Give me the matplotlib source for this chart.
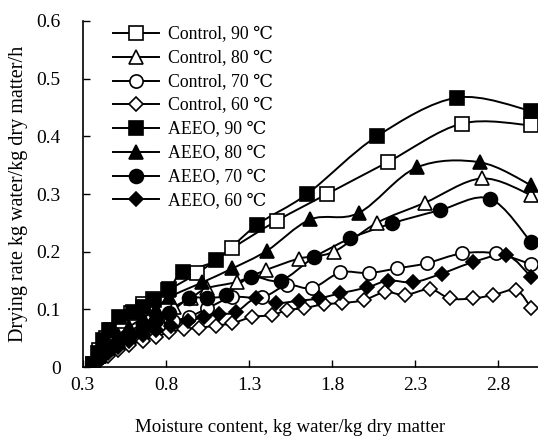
import numpy as np
import matplotlib
matplotlib.use('Agg')
import matplotlib.pyplot as plt
from matplotlib.path import Path
from matplotlib.patches import PathPatch

plt.rcParams['font.family'] = ['Liberation Serif', 'DejaVu Serif']

# Moisture content (x) and drying rate (y) per treatment
aeeo90_x = [0.36, 0.39, 0.42, 0.46, 0.52, 0.60, 0.66, 0.73, 0.82, 0.90, 1.10, 1.35, 1.65, 2.07, 2.55, 3.00]
aeeo90_y = [0.005, 0.025, 0.047, 0.065, 0.087, 0.095, 0.105, 0.116, 0.135, 0.165, 0.185, 0.247, 0.300, 0.400, 0.467, 0.444]

ctrl90_x = [0.36, 0.40, 0.44, 0.47, 0.53, 0.59, 0.66, 0.72, 0.81, 0.99, 1.20, 1.47, 1.77, 2.14, 2.58, 3.00]
ctrl90_y = [0.005, 0.030, 0.050, 0.064, 0.080, 0.093, 0.110, 0.118, 0.133, 0.163, 0.206, 0.254, 0.300, 0.356, 0.422, 0.419]

aeeo80_x = [0.36, 0.40, 0.45, 0.51, 0.58, 0.66, 0.74, 0.82, 1.02, 1.20, 1.41, 1.67, 1.96, 2.31, 2.69, 3.00]
aeeo80_y = [0.005, 0.020, 0.040, 0.055, 0.070, 0.085, 0.100, 0.121, 0.147, 0.171, 0.202, 0.256, 0.267, 0.346, 0.355, 0.315]

ctrl80_x = [0.36, 0.40, 0.45, 0.51, 0.58, 0.66, 0.75, 0.85, 0.95, 1.05, 1.23, 1.40, 1.60, 1.81, 2.07, 2.36, 2.70, 3.00]
ctrl80_y = [0.005, 0.020, 0.035, 0.050, 0.062, 0.075, 0.090, 0.105, 0.120, 0.137, 0.148, 0.168, 0.188, 0.200, 0.250, 0.285, 0.327, 0.298]

aeeo70_x = [0.36, 0.40, 0.45, 0.51, 0.58, 0.66, 0.74, 0.82, 0.94, 1.05, 1.16, 1.31, 1.49, 1.69, 1.91, 2.16, 2.45, 2.75, 3.00]
aeeo70_y = [0.005, 0.018, 0.032, 0.045, 0.058, 0.070, 0.082, 0.093, 0.119, 0.120, 0.125, 0.156, 0.150, 0.190, 0.223, 0.249, 0.272, 0.292, 0.216]

ctrl70_x = [0.36, 0.40, 0.45, 0.51, 0.58, 0.66, 0.75, 0.84, 0.94, 1.05, 1.20, 1.38, 1.53, 1.68, 1.85, 2.02, 2.19, 2.37, 2.58, 2.79, 3.00]
ctrl70_y = [0.005, 0.015, 0.028, 0.040, 0.052, 0.062, 0.072, 0.080, 0.087, 0.102, 0.121, 0.121, 0.142, 0.137, 0.164, 0.163, 0.171, 0.180, 0.197, 0.197, 0.178]

aeeo60_x = [0.36, 0.40, 0.45, 0.51, 0.58, 0.66, 0.74, 0.83, 0.93, 1.03, 1.12, 1.22, 1.34, 1.46, 1.60, 1.72, 1.85, 2.01, 2.14, 2.29, 2.46, 2.65, 2.85, 3.00]
aeeo60_y = [0.005, 0.013, 0.024, 0.035, 0.045, 0.055, 0.064, 0.072, 0.080, 0.086, 0.092, 0.095, 0.119, 0.111, 0.115, 0.119, 0.128, 0.138, 0.150, 0.147, 0.162, 0.182, 0.194, 0.156]

ctrl60_x = [0.36, 0.40, 0.45, 0.51, 0.58, 0.66, 0.74, 0.82, 0.91, 1.00, 1.10, 1.20, 1.32, 1.44, 1.53, 1.63, 1.75, 1.86, 1.99, 2.12, 2.24, 2.39, 2.51, 2.65, 2.77, 2.91, 3.00]
ctrl60_y = [0.003, 0.010, 0.020, 0.030, 0.038, 0.046, 0.053, 0.060, 0.066, 0.068, 0.072, 0.076, 0.087, 0.090, 0.099, 0.102, 0.109, 0.111, 0.116, 0.130, 0.125, 0.135, 0.119, 0.119, 0.125, 0.133, 0.102]

x_ticks = [0.3, 0.8, 1.3, 1.8, 2.3, 2.8]
y_ticks = [0, 0.1, 0.2, 0.3, 0.4, 0.5, 0.6]
y_tick_labels = ['0', '0.1', '0.2', '0.3', '0.4', '0.5', '0.6']

series = [
    ('Control, 90 \u2103', ctrl90_x, ctrl90_y, 's', 'white', 9.5),
    ('Control, 80 \u2103', ctrl80_x, ctrl80_y, '^', 'white', 9.5),
    ('Control, 70 \u2103', ctrl70_x, ctrl70_y, 'o', 'white', 9.5),
    ('Control, 60 \u2103', ctrl60_x, ctrl60_y, 'D', 'white', 7),
    ('AEEO, 90 \u2103', aeeo90_x, aeeo90_y, 's', 'black', 10),
    ('AEEO, 80 \u2103', aeeo80_x, aeeo80_y, '^', 'black', 10),
    ('AEEO, 70 \u2103', aeeo70_x, aeeo70_y, 'o', 'black', 10),
    ('AEEO, 60 \u2103', aeeo60_x, aeeo60_y, 'D', 'black', 7.5),
]


def smooth_path(x, y):
    # Excel-style smoothed line as cubic bezier through the points
    p = np.column_stack([x, y])
    verts = [p[0]]
    codes = [Path.MOVETO]
    n = len(p)
    for i in range(n - 1):
        p0 = p[i - 1] if i > 0 else p[i]
        p3 = p[i + 2] if i + 2 < n else p[i + 1]
        c1 = p[i] + (p[i + 1] - p0) / 6
        c2 = p[i + 1] - (p3 - p[i]) / 6
        verts += [c1, c2, p[i + 1]]
        codes += [Path.CURVE4] * 3
    return Path(verts, codes)


fig = plt.figure(figsize=(5.38, 4.36), dpi=100)
ax = fig.add_axes([0.154, 0.158, 0.846, 0.794])

for label, xs, ys, mk, fc, ms in series:
    ax.add_patch(PathPatch(smooth_path(xs, ys), fill=False, edgecolor='black', linewidth=1.4))
    ax.plot(xs, ys, linestyle='none', marker=mk, markerfacecolor=fc,
            markeredgecolor='black', markeredgewidth=1.2, markersize=ms)
    ax.plot([], [], color='black', linewidth=1.4, marker=mk, markerfacecolor=fc,
            markeredgecolor='black', markeredgewidth=1.2, markersize=ms, label=label)

ax.set_xlim(0.3, 3.04)
ax.set_ylim(0, 0.6)
ax.set_xticks(x_ticks)
ax.set_xticklabels([f'{t:.1f}' for t in x_ticks])
ax.set_yticks(y_ticks)
ax.set_yticklabels(y_tick_labels)
ax.tick_params(direction='in', length=5, width=1, labelsize=14)
ax.tick_params(axis='x', pad=7)
ax.tick_params(axis='y', pad=16)
ax.spines['top'].set_visible(False)
ax.spines['right'].set_visible(False)
ax.spines['left'].set_linewidth(1.2)
ax.spines['bottom'].set_linewidth(1.2)

ax.set_xlabel('Moisture content, kg water/kg dry matter', fontsize=13.6)
ax.xaxis.set_label_coords(0.455, -0.15)
ax.set_ylabel('Drying rate kg water/kg dry matter/h', fontsize=14.5, labelpad=6)

ax.legend(loc='upper left', bbox_to_anchor=(0.05, 1.005), frameon=False, fontsize=12.8,
          handlelength=2.6, labelspacing=0.38, handletextpad=0.5, borderaxespad=0)

fig.savefig('out.png', dpi=100)
